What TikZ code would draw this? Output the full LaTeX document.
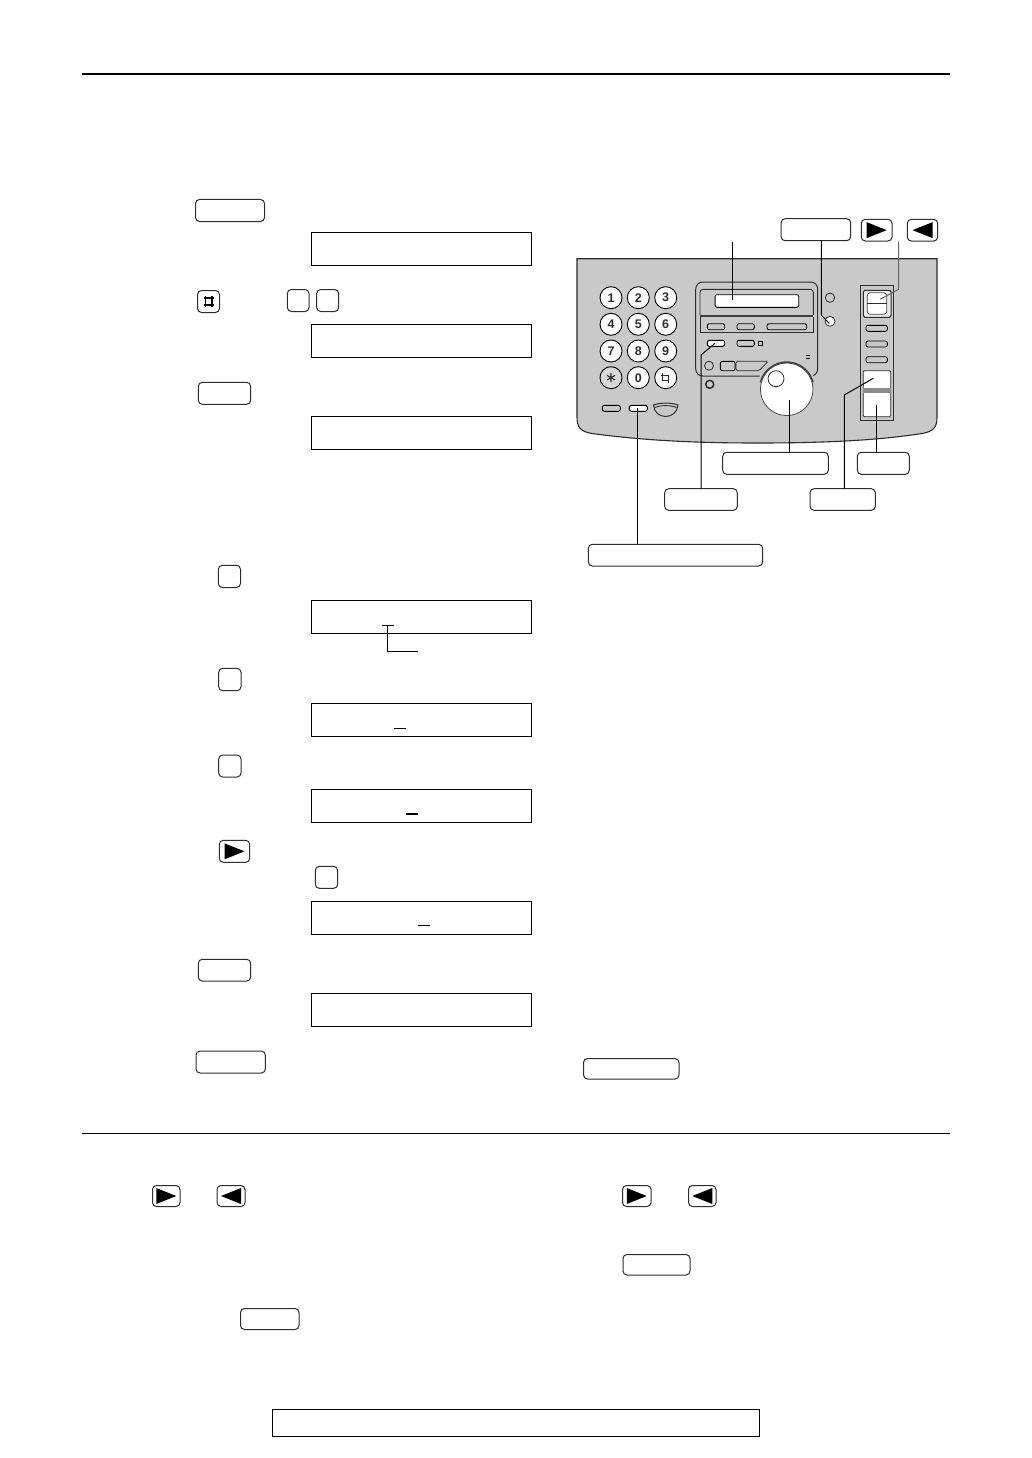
\documentclass[tikz,border=0pt]{standalone}
\usepackage{fontspec}
\setmainfont{Liberation Sans}
\definecolor{panelgrey}{HTML}{C9C9C9}
\definecolor{edge}{HTML}{2E2E2E}
\tikzset{
  keybox/.style={draw=edge,line width=1pt,rounded corners=4pt,fill=white,inner sep=0pt,outer sep=0pt},
  lcdbox/.style={draw=black,line width=1.2pt,fill=white,inner sep=0pt,outer sep=0pt},
  pad/.style={circle,draw=black,line width=0.9pt,fill=white,minimum size=22pt,inner sep=0pt,outer sep=0pt,font=\fontsize{12.5}{13}\selectfont\bfseries,text=edge},
  callout/.style={draw=black,line width=1pt},
  cursorline/.style={draw=black,line width=1.1pt},
  minikey/.style={draw=black,line width=0.9pt,rounded corners=2pt,fill=panelgrey,inner sep=0pt,outer sep=0pt},
  ink/.style={draw=edge,line width=0.9pt},
}
\newcommand{\kb}[5]{\node[keybox,minimum width={(#4-#2)*1pt},minimum height={(#5-#3)*1pt}] (#1) at ({(#2+#4)/2},{(#3+#5)/2}) {};}
\newcommand{\lcd}[3]{\node[lcdbox,minimum width=220pt,minimum height={(#3-#2)*1pt}] (#1) at (421.5,{(#2+#3)/2}) {};}
\newcommand{\mk}[6][panelgrey]{\node[minikey,fill=#1,minimum width={(#4-#2)*1pt},minimum height={(#6-#3)*1pt}] (#5) at ({(#2+#4)/2},{(#3+#6)/2}) {};}
\newcommand{\rightkey}[1]{\fill[black] ([shift={(-10,-8)}]#1.center) -- ([shift={(10,0)}]#1.center) -- ([shift={(-10,8)}]#1.center) -- cycle;}
\newcommand{\leftkey}[1]{\fill[black] ([shift={(10,-8)}]#1.center) -- ([shift={(-10,0)}]#1.center) -- ([shift={(10,8)}]#1.center) -- cycle;}
\begin{document}
\begin{tikzpicture}[x=1pt,y=-1pt]
\useasboundingbox[fill=white] (0,0) rectangle (1032,1458);
% rules
\draw[line width=2.4pt] (82,74) -- (949.5,74);
\draw[line width=1pt] (82,1133) -- (949.5,1133);
\node[lcdbox,minimum width=487.5pt,minimum height=27pt] (footer) at (516,1423.3) {};
% left column
\kb{kstopa}{195.5}{199.5}{264.5}{221.5}
\lcd{lcda}{232.5}{265.5}
\kb{khash}{197.5}{290.5}{219.5}{312.5}
\draw[line width=1.6pt] (204,298) -- (214,298) (204,305) -- (214,305) (205.5,296) -- (205.5,307) (212,296) -- (212,307);
\kb{ka}{287.3}{289.5}{309}{311.5}
\kb{kb}{316.7}{289.5}{338.7}{311.5}
\lcd{lcdb}{324.3}{357.3}
\kb{kseta}{198.3}{382.3}{250.7}{404.3}
\lcd{lcdc}{416.3}{449.3}
\kb{kc}{218.3}{565.3}{240.5}{587.5}
\lcd{lcdd}{600.3}{633.5}
\coordinate (cura) at (382,625.3);
\coordinate (curb) at (393.7,625.3);
\coordinate (curm) at (387.3,625.3);
\coordinate (lead) at (418,651.3);
\draw[cursorline] (cura) -- (curb);
\draw[cursorline] (curm) |- (lead);
\kb{kd}{218.7}{668.3}{241}{690.7}
\lcd{lcde}{703.3}{736.3}
\draw[cursorline] (394,728.3) -- (406,728.3);
\kb{ke}{218.7}{755}{241}{777}
\lcd{lcdf}{789.3}{822.3}
\draw[cursorline] (406,814) -- (418,814);
\kb{karrowa}{219.3}{840.3}{249.7}{862.3}
\rightkey{karrowa}
\kb{kf}{315.3}{866.3}{337.7}{888.3}
\lcd{lcdg}{901.3}{934.3}
\draw[cursorline] (418,925.3) -- (430,925.3);
\kb{ksetb}{198.3}{959.3}{250.7}{981}
\lcd{lcdh}{993.3}{1026.3}
\kb{kstopb}{196}{1051}{265.3}{1073}
\kb{kwide}{583.5}{1058.5}{679}{1079}
% bottom keys
\kb{karrowb}{152.5}{1185.5}{180}{1206.5}
\rightkey{karrowb}
\kb{karrowc}{217}{1185.5}{245}{1206.5}
\leftkey{karrowc}
\kb{karrowd}{622.5}{1185.5}{651}{1206.5}
\rightkey{karrowd}
\kb{karrowe}{688.5}{1185.5}{716}{1206.5}
\leftkey{karrowe}
\kb{kstopc}{623}{1254.5}{690}{1275}
\kb{ksetc}{240.5}{1308.5}{299}{1329.5}
% panel
\draw[fill=panelgrey,draw=edge,line width=1.1pt] (577,258.7) -- (937,258.7) -- (937,417)
  .. controls (937,428) and (933,431.5) .. (922,433.5)
  .. controls (880,440) and (830,443) .. (757,443)
  .. controls (690,443) and (640,440) .. (592,433.5)
  .. controls (581,431.5) and (577,428) .. (577,417) -- cycle;
% keypad
\foreach \nm/\xx/\yy/\lb in {p1/611/297.7/1,p2/638.3/297.7/2,p3/665.7/297.7/3,p4/611/324.3/4,p5/638.3/324.3/5,p6/665.7/324.3/6,p7/611/351/7,p8/638.3/351/8,p9/665.7/351/9,p0/638.3/377.7/0}{
  \node[pad] (\nm) at (\xx,\yy) {\lb};
}
\node[pad,fill=panelgrey!70!white] (pstar) at (611,377.7) {};
\draw[line width=1.1pt,draw=edge] ([shift={(-4,-2.3)}]pstar.center) -- ([shift={(4,2.3)}]pstar.center)
  ([shift={(-4,2.3)}]pstar.center) -- ([shift={(4,-2.3)}]pstar.center)
  ([shift={(0,-4.5)}]pstar.center) -- ([shift={(0,4.5)}]pstar.center);
\node[pad] (phash) at (665.7,377.7) {};
\draw[ink,line width=1pt] ([shift={(-2.8,-2.5)}]phash.center) rectangle ([shift={(2.8,2.5)}]phash.center)
  ([shift={(-5,-2.5)}]phash.center) -- ([shift={(-2.8,-2.5)}]phash.center)
  ([shift={(-2.8,-5)}]phash.center) -- ([shift={(-2.8,-2.5)}]phash.center)
  ([shift={(2.8,2.5)}]phash.center) -- ([shift={(2.8,5)}]phash.center);
% lower left buttons
\mk{602.3}{405.3}{620.3}{bota}{411.3}
\mk[white]{629.3}{405.3}{647.3}{botb}{411.3}
\draw[draw=edge,line width=1pt,fill=panelgrey] (653.5,405) .. controls (660,402.5) and (672,402.5) .. (678,405) .. controls (677.5,412) and (672,416.5) .. (665.7,416.5) .. controls (659,416.5) and (654,412) .. (653.5,405) -- cycle;
\draw[ink] (655,407.5) .. controls (660,405) and (671,405) .. (676.5,407.5);
% centre console
\draw[draw=edge,line width=1pt,rounded corners=7pt] (695.7,282) rectangle (817.7,376);
\draw[ink,rounded corners=3pt] (700,315) -- (700,289.3) -- (813.3,289.3) -- (813.3,315);
\draw[draw=black!75,line width=1.7pt] (700,315.8) -- (813.3,315.8);
\draw[ink] (700,316.7) -- (700,332.7) -- (813.3,332.7) -- (813.3,316.7);
\node[minikey,fill=white,minimum width=83.7pt,minimum height=12.6pt] (screen) at (756.9,301) {};
\mk{707.3}{323.7}{724.7}{ma}{329.7}
\mk{737}{323.7}{754.3}{mb}{329.7}
\mk{767}{323.7}{806.7}{mc}{329.7}
\mk[white]{707.3}{340.3}{724.7}{md}{346.3}
\mk{737}{340.3}{754.3}{me}{346.3}
\draw[draw=black,line width=0.9pt] (758.3,341.3) rectangle (762.3,345.3);
\draw[draw=black,line width=1.3pt] (805.7,355.3) -- (810.3,355.3) (805.7,358.3) -- (810.3,358.3);
\node[circle,draw=edge,line width=0.8pt,fill=panelgrey,minimum size=9pt,inner sep=0pt] (dota) at (709,365.7) {};
\node[minikey,minimum width=14.7pt,minimum height=9.4pt] (sqkey) at (727.7,366) {};
\draw[draw=edge,line width=0.8pt,rounded corners=1.5pt,fill=panelgrey] (736,361.3) -- (768.3,361.3) -- (759,370.7) -- (736,370.7) -- cycle;
\node[circle,draw=edge,line width=1.5pt,fill=panelgrey,minimum size=8pt,inner sep=0pt] (dotb) at (709.7,384.3) {};
% dial
\fill[panelgrey] (786.7,389.3) circle (30);
\node[circle,draw=black!70,line width=0.8pt,fill=white,minimum size=52.6pt,inner sep=0pt,outer sep=0pt] (dial) at (786.7,389.3) {};
\draw[draw=black!75,line width=1.4pt] (786.7,389.3) ++(195:27.3) arc (195:345:27.3);
\node[circle,draw=edge,line width=0.8pt,fill=white,minimum size=16pt,inner sep=0pt] (dialsmall) at (776,378.7) {};
% right lamps
\node[circle,draw=edge,line width=0.8pt,fill=panelgrey,minimum size=9.4pt,inner sep=0pt] (lampa) at (830,297.7) {};
\node[circle,draw=edge,line width=0.8pt,fill=white,minimum size=10pt,inner sep=0pt] (lampb) at (830,321.3) {};
% right strip
\draw[draw=edge,line width=1pt] (860.3,285.3) rectangle (893.3,420);
\node[draw=edge,line width=1.1pt,rounded corners=1.5pt,fill=panelgrey!40!white,minimum width=27.7pt,minimum height=27pt,inner sep=0pt] (navframe) at (877.2,303.8) {};
\draw[draw=black!70,line width=0.8pt,rounded corners=3pt,fill=white] (867.3,292.7) rectangle (886.7,314.3);
\draw[draw=edge,line width=1.5pt] (867.3,303.3) -- (886.7,303.3);
\mk{866}{325.3}{887.3}{sa}{331.3}
\mk{866}{341}{887.3}{sb}{347}
\mk{866}{356.7}{887.3}{sc}{362.7}
\node[draw=edge,line width=0.8pt,rounded corners=1pt,fill=white,minimum width=27.4pt,minimum height=46pt,inner sep=0pt] (bigkey) at (877,393.7) {};
\fill[black!45] (863.3,388) rectangle (890.7,392.7);
% key callouts
\kb{ktop}{781}{218.7}{850.7}{240.7}
\kb{karrowf}{861.3}{219.3}{892}{241}
\rightkey{karrowf}
\kb{karrowg}{907.3}{219.3}{937.7}{241}
\leftkey{karrowg}
\kb{kdial}{722.7}{452.3}{828.3}{474.3}
\kb{kside}{857.3}{452.3}{909.3}{474.3}
\kb{kconsole}{664.7}{488.7}{737.3}{510.3}
\kb{kstrip}{810}{488.7}{875.3}{510.3}
\kb{klong}{588.3}{544.3}{762.7}{566}
\coordinate (tscreenup) at (732.7,242);
\coordinate (tscreen) at (732.7,300);
\draw[callout] (tscreenup) -- (tscreen);
\coordinate (ttopa) at (821.3,315);
\coordinate (ttopb) at (829.3,323.5);
\draw[callout] (ktop.south -| ttopa) -- (ttopa) -- (ttopb);
\coordinate (tnavup) at (898.7,241.7);
\coordinate (tnavbend) at (898.7,289.3);
\coordinate (tnav) at (880,299.3);
\draw[draw=black!60,line width=1pt] (tnavup) -- (tnavbend) -- (tnav);
\coordinate (tstripa) at (844.3,395);
\coordinate (tstripb) at (873.3,378.3);
\draw[callout] (kstrip.north -| tstripa) -- (tstripa) -- (tstripb);
\coordinate (tdial) at (789,400);
\draw[callout] (kdial.north -| tdial) -- (tdial);
\coordinate (tside) at (876,405);
\draw[callout] (kside.north -| tside) -- (tside);
\coordinate (tconsa) at (701,355);
\coordinate (tconsb) at (715,343.3);
\draw[callout] (kconsole.north -| tconsa) -- (tconsa) -- (tconsb);
\coordinate (tlong) at (637.3,408.3);
\draw[callout] (klong.north -| tlong) -- (tlong);
\end{tikzpicture}
\end{document}
